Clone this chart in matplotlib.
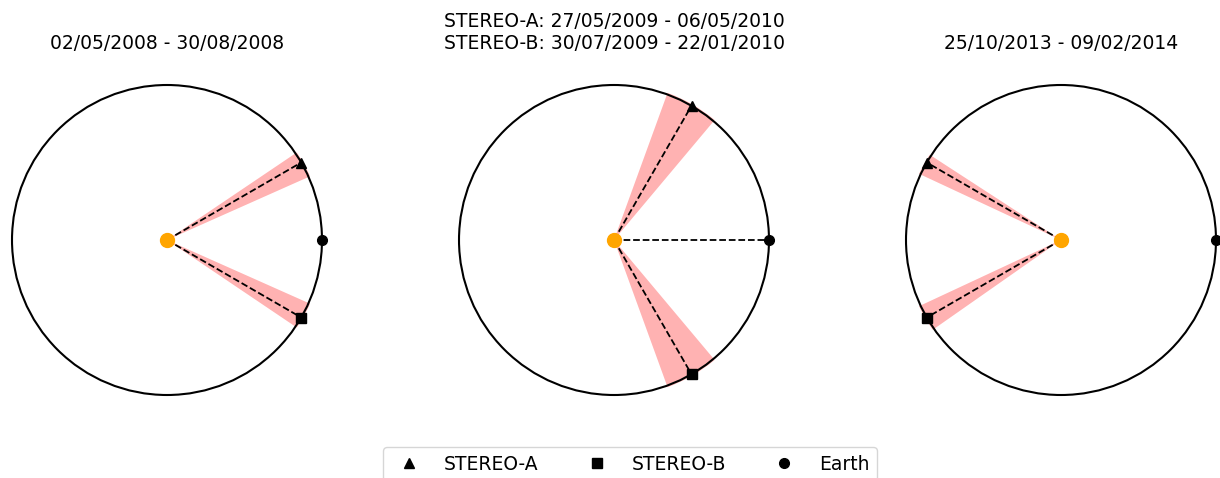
import numpy as np
import matplotlib.pyplot as plt
from matplotlib.patches import Wedge, Circle
from matplotlib.lines import Line2D

# Заголовки панелей
titles = ['02/05/2008 - 30/08/2008',
          'STEREO-A: 27/05/2009 - 06/05/2010\nSTEREO-B: 30/07/2009 - 22/01/2010',
          '25/10/2013 - 09/02/2014']

# Положения аппаратов (градусы от линии Солнце-Земля)
sta_angle = [30, 60, 150]
stb_angle = [-30, -60, -150]
earth_angle = [0, 0, 0]

# Диапазоны углов за период наблюдений
sta_range = [(24, 34), (50, 70), (147, 155)]
stb_range = [(-34, -24), (-70, -50), (-155, -145)]

# Рисовать ли линию до Земли
earth_line = [False, True, False]

W, H = 1220, 478
fig = plt.figure(figsize=(W / 100, H / 100), dpi=100)

centers = [167, 614, 1061]
size = 330
lim = size / 2 / 155

for i in range(3):
    cx = centers[i]
    ax = fig.add_axes([(cx - size / 2) / W, (H - 240 - size / 2) / H, size / W, size / H])
    ax.set_xlim(-lim, lim)
    ax.set_ylim(-lim, lim)
    ax.axis('off')

    for rng in (sta_range[i], stb_range[i]):
        ax.add_patch(Wedge((0, 0), 1.01, rng[0], rng[1], color='red', alpha=0.3, lw=0, zorder=1))

    ax.add_patch(Circle((0, 0), 1, fill=False, color='black', lw=1.5, zorder=2))

    for ang, mk, show in ((sta_angle[i], '^', True), (stb_angle[i], 's', True),
                          (earth_angle[i], 'o', earth_line[i])):
        x, y = np.cos(np.radians(ang)), np.sin(np.radians(ang))
        if show:
            ax.plot([0, x], [0, y], '--', color='black', lw=1.3, zorder=3)
        ax.plot(x, y, mk, color='black', ms=7, zorder=4, clip_on=False)

    ax.plot(0, 0, 'o', color='orange', ms=10, zorder=5)
    ax.set_title(titles[i], fontsize=13.5, pad=18.5, linespacing=1.22)

handles = [Line2D([], [], marker='^', color='black', ls='none', ms=7, label='STEREO-A'),
           Line2D([], [], marker='s', color='black', ls='none', ms=7, label='STEREO-B'),
           Line2D([], [], marker='o', color='black', ls='none', ms=7, label='Earth')]
fig.legend(handles=handles, loc='upper center', bbox_to_anchor=(630 / W, 31 / H), ncol=3,
           fontsize=13.5, columnspacing=2.1, handletextpad=0.85, borderaxespad=0)

fig.savefig('out.png', dpi=100)
